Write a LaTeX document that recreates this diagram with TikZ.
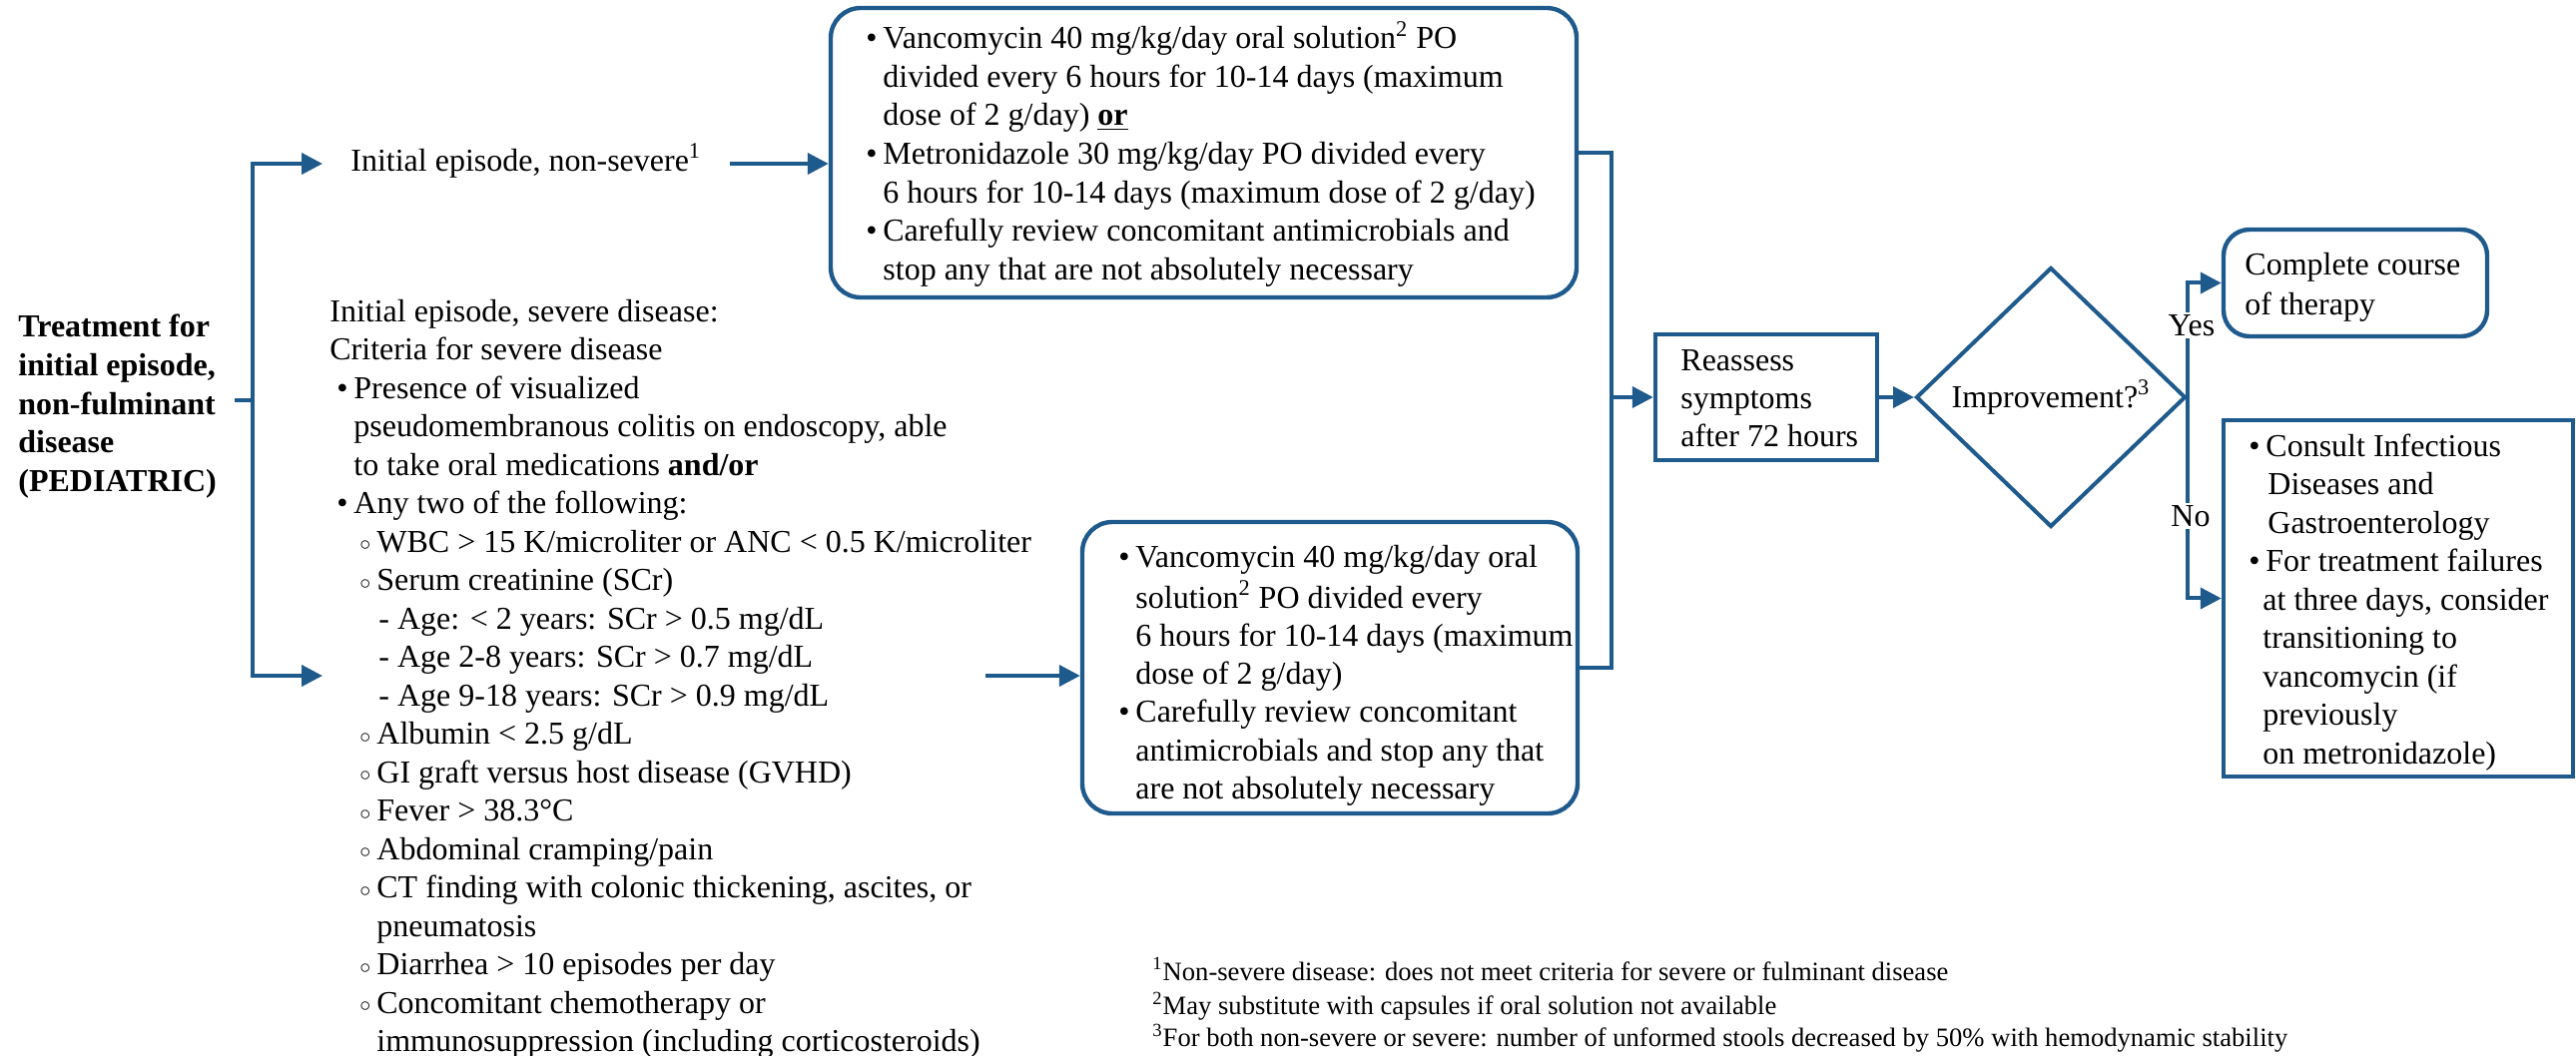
\documentclass[tikz,border=0pt]{standalone}
\usepackage{fontspec}
\setmainfont{Liberation Serif}
\usetikzlibrary{arrows.meta,shapes.geometric}
\definecolor{flow}{RGB}{31,90,140}
\newcommand{\mybul}{\makebox[8.5pt][l]{\textbullet}}
\newcommand{\mycirc}{\makebox[8.5pt][l]{\raisebox{0.1ex}{$\scriptstyle\circ$}}}
\begin{document}
\begin{tikzpicture}[x=0.5pt,y=-0.5pt,
  txt/.style={inner sep=0pt, anchor=north west, align=left, font=\fontsize{16}{19.3}\selectfont},
  conn/.style={draw=flow, line width=2pt},
  arr/.style={draw=flow, line width=2pt, -{Triangle[length=10.5pt,width=10.5pt]}},
  rbox/.style={draw=flow, line width=2.2pt, rounded corners=15pt},
  sbox/.style={draw=flow, line width=2.2pt},
  lab/.style={fill=white, inner sep=1pt, font=\fontsize{16}{19.3}\selectfont}]
\useasboundingbox (0,0) rectangle (2580,1058);

% title
\node[txt, font=\fontsize{16}{19.4}\selectfont\bfseries] (title) at (18,310)
 {\strut Treatment for\\initial episode,\\non-fulminant\\disease\\(PEDIATRIC)};
\coordinate (stub) at (235,401);
\coordinate (split) at (253,401);

% non-severe label
\node[inner xsep=14pt, inner ysep=0pt, text height=11pt, text depth=3.5pt, anchor=west,
      font=\fontsize{16}{19.3}\selectfont] (nonsev) at (323,164)
 {Initial episode, non-severe\textsuperscript{1}};

% severe block
\node[txt, font=\fontsize{16}{19.25}\selectfont] (severe) at (330,295)
 {\strut Initial episode, severe disease:\\
  Criteria for severe disease\\
  \hspace*{3.5pt}\mybul Presence of visualized\\
  \hspace*{12pt}pseudomembranous colitis on endoscopy, able\\
  \hspace*{12pt}to take oral medications \textbf{and/or}\\
  \hspace*{3.5pt}\mybul Any two of the following:\\
  \hspace*{15pt}\mycirc WBC > 15 K/microliter or ANC < 0.5 K/microliter\\
  \hspace*{15pt}\mycirc Serum creatinine (SCr)\\
  \hspace*{24.5pt}- Age: < 2 years: SCr > 0.5 mg/dL\\
  \hspace*{24.5pt}- Age 2-8 years: SCr > 0.7 mg/dL\\
  \hspace*{24.5pt}- Age 9-18 years: SCr > 0.9 mg/dL\\
  \hspace*{15pt}\mycirc Albumin < 2.5 g/dL\\
  \hspace*{15pt}\mycirc GI graft versus host disease (GVHD)\\
  \hspace*{15pt}\mycirc Fever > 38.3°C\\
  \hspace*{15pt}\mycirc Abdominal cramping/pain\\
  \hspace*{15pt}\mycirc CT finding with colonic thickening, ascites, or\\
  \hspace*{23.5pt}pneumatosis\\
  \hspace*{15pt}\mycirc Diarrhea > 10 episodes per day\\
  \hspace*{15pt}\mycirc Concomitant chemotherapy or\\
  \hspace*{23.5pt}immunosuppression (including corticosteroids)};
\coordinate (sevin) at (323,677);
\coordinate (sevout) at (987,677);

% box 1
\node[rbox, minimum width=373.5pt, minimum height=145pt] (box1) at (1205.5,153) {};
\node[txt] (box1t) at (867,21)
 {\strut\mybul Vancomycin 40 mg/kg/day oral solution\textsuperscript{2} PO\\
  \hspace*{8.5pt}divided every 6 hours for 10-14 days (maximum\\
  \hspace*{8.5pt}dose of 2 g/day) \textbf{\underline{or}}\\
  \mybul Metronidazole 30 mg/kg/day PO divided every\\
  \hspace*{8.5pt}6 hours for 10-14 days (maximum dose of 2 g/day)\\
  \mybul Carefully review concomitant antimicrobials and\\
  \hspace*{8.5pt}stop any that are not absolutely necessary};

% box 2
\node[rbox, minimum width=248pt, minimum height=146pt] (box2) at (1332,669) {};
\node[txt, font=\fontsize{16}{19.15}\selectfont] (box2t) at (1120,541)
 {\strut\mybul Vancomycin 40 mg/kg/day oral\\
  \hspace*{8.5pt}solution\textsuperscript{2} PO divided every\\
  \hspace*{8.5pt}6 hours for 10-14 days (maximum\\
  \hspace*{8.5pt}dose of 2 g/day)\\
  \mybul Carefully review concomitant\\
  \hspace*{8.5pt}antimicrobials and stop any that\\
  \hspace*{8.5pt}are not absolutely necessary};

% reassess
\coordinate (merge) at (1614,398);
\node[sbox, minimum width=111pt, minimum height=63pt] (reassess) at (1769,398) {};
\node[txt, font=\fontsize{16}{19.1}\selectfont] (reassesst) at (1683,344)
 {\strut Reassess\\symptoms\\after 72 hours};

% decision
\node[draw=flow, line width=2pt, diamond, aspect=1.04, inner sep=0pt,
      minimum width=135pt, minimum height=130pt,
      font=\fontsize{16}{19.3}\selectfont] (dia) at (2054,398)
 {Improvement?\textsuperscript{3}};

% outcomes
\node[rbox, rounded corners=13pt, minimum width=132pt, minimum height=53.5pt] (complete) at (2359,283.5) {};
\node[txt, font=\fontsize{16}{20}\selectfont] (completet) at (2248,247)
 {\strut Complete course\\of therapy};
\node[sbox, minimum width=175pt, minimum height=178.5pt] (consult) at (2402,599.5) {};
\node[txt, font=\fontsize{16}{19.25}\selectfont] (consultt) at (2252,430)
 {\strut\mybul Consult Infectious\\
  \hspace*{9.5pt}Diseases and\\
  \hspace*{9.5pt}Gastroenterology\\
  \mybul For treatment failures\\
  \hspace*{7pt}at three days, consider\\
  \hspace*{7pt}transitioning to\\
  \hspace*{7pt}vancomycin (if\\
  \hspace*{7pt}previously\\
  \hspace*{7pt}on metronidazole)};

% connectors
\draw[conn] (stub) -- (split);
\draw[arr] (split) |- (nonsev.west);
\draw[arr] (split) |- (sevin);
\draw[arr] (nonsev.east) -- (nonsev.east -| box1.west);
\draw[arr] (sevout) -- (sevout -| box2.west);
\draw[conn] (box1.east) -| (merge);
\draw[conn] (box2.east) -| (merge);
\draw[arr] (merge) -- (reassess.west);
\draw[arr] (reassess.east) -- (dia.west);
\draw[arr] (dia.east) |- (complete.west);
\draw[arr] (dia.east) |- (consult.west);
\node[lab] (yes) at (2195,326) {Yes};
\node[lab] (no) at (2194,517) {No};

% footnotes
\node[txt, font=\fontsize{13.3}{16}\selectfont] (notes) at (1154,959)
 {\strut\textsuperscript{1}Non-severe disease: does not meet criteria for severe or fulminant disease\\
  \textsuperscript{2}May substitute with capsules if oral solution not available\\
  \textsuperscript{3}For both non-severe or severe: number of unformed stools decreased by 50\% with hemodynamic stability};
\end{tikzpicture}
\end{document}
